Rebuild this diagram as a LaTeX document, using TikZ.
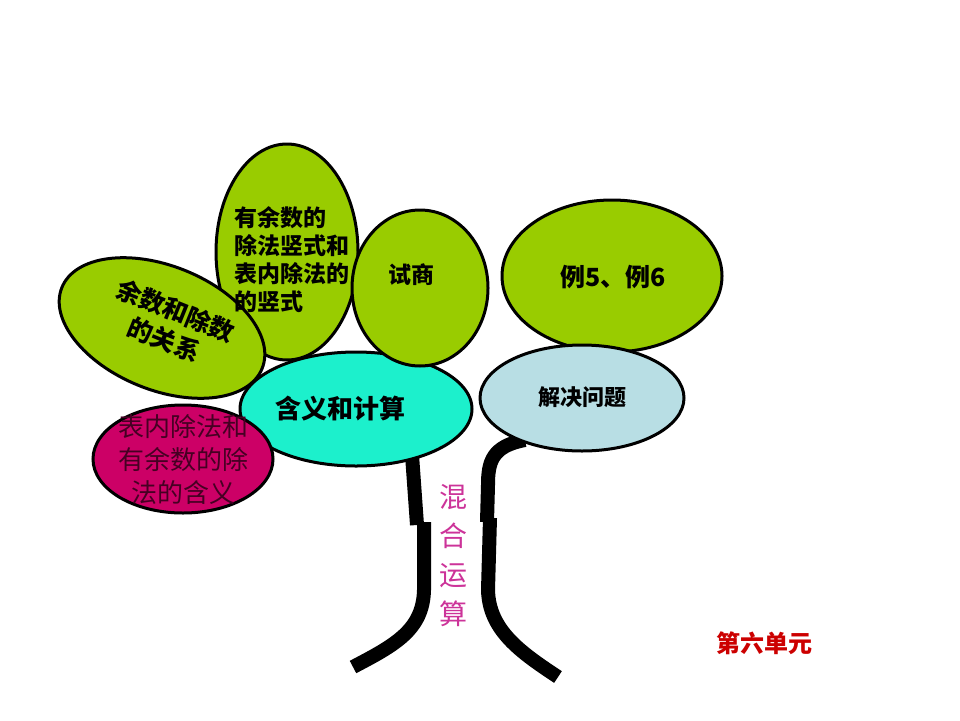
\documentclass[tikz,border=0pt]{standalone}
\usepackage{fontspec}
\newfontfamily\cjk{Noto Sans CJK SC}
\usepackage{tikz}
\usetikzlibrary{shapes}
\definecolor{leafgreen}{RGB}{153,204,0}
\definecolor{hanyicyan}{RGB}{28,240,204}
\definecolor{jiejueblue}{RGB}{184,222,228}
\definecolor{rootred}{RGB}{204,0,102}
\definecolor{roottext}{RGB}{70,0,35}
\definecolor{hunhepink}{RGB}{204,51,153}
\definecolor{unitred}{RGB}{204,0,0}
\tikzstyle{leaf}=[ellipse, draw=black, line width=3pt, inner sep=0pt, text=black]
\tikzstyle{trunk}=[draw=black, line width=14pt]
\newcommand{\boldcjk}[1]{\cjk\bfseries\fontsize{#1}{1.3\dimexpr#1pt\relax}\selectfont}

\begin{document}
\begin{tikzpicture}[x=1pt,y=-1pt]
\useasboundingbox (0,0) rectangle (960,720);
% trunk
\coordinate (L1) at (412,455);
\coordinate (L2) at (417,525);
\coordinate (L3) at (424,522);
\coordinate (L4) at (353,667);
\coordinate (R1) at (525,440);
\coordinate (R2) at (487,522);
\coordinate (R3) at (490,518);
\coordinate (R4) at (558,677);
\draw[trunk](L1)--(L2);
\draw[trunk](L3)--(424,590) .. controls (423,630) and (395,645) .. (L4);
\draw[trunk](R1) .. controls (492,446) and (488,462) .. (488,485)--(R2);
\draw[trunk](R3)--(488,590) .. controls (489,630) and (520,652) .. (R4);
% leaves
\node[leaf, fill=hanyicyan, minimum width=232, minimum height=114] (hanyi) at (356,409) {};
\node[leaf, fill=leafgreen, minimum width=142, minimum height=216] (shushi) at (287,252) {};
\node[leaf, fill=leafgreen, minimum width=136, minimum height=156] (shishang) at (420,288) {};
\node[leaf, fill=leafgreen, minimum width=216, minimum height=124, rotate=-22] (yushu) at (162,328) {};
\node[leaf, fill=rootred, minimum width=180, minimum height=108] (biaonei) at (183,459) {};
\node[leaf, fill=leafgreen, minimum width=220, minimum height=152] (liti) at (612,276) {};
\node[leaf, fill=jiejueblue, minimum width=204, minimum height=106] (jiejue) at (582,398) {};
% texts
\node[font=\boldcjk{26}] (hanyiT) at ([xshift=-16pt]hanyi.center) {含义和计算};
\node[font={\boldcjk{23}\baselineskip=28pt}, align=left] (shushiT) at (292,260) {有余数的\\除法竖式和\\表内除法的\\的竖式};
\node[font=\boldcjk{23}] (shishangT) at (411,275) {试商};
\node[font={\boldcjk{25}\baselineskip=31pt}, align=center, rotate=-22] (yushuT) at (170,325) {余数和除数\\的关系};
\node[font=\cjk\fontsize{26}{33}\selectfont, align=center, text=roottext] (biaoneiT) at (183,460) {表内除法和\\有余数的除\\法的含义};
\node[font=\boldcjk{25}] (litiT) at (613,277) {例5、例6};
\node[font=\boldcjk{22}] (jiejueT) at (582,397) {解决问题};
\node[font=\cjk\fontsize{28}{39}\selectfont, align=center, text=hunhepink] (hunhe) at (453,556) {混\\合\\运\\算};
\node[font=\boldcjk{24}, text=unitred] (unit) at (764,643) {第六单元};
\end{tikzpicture}
\end{document}
